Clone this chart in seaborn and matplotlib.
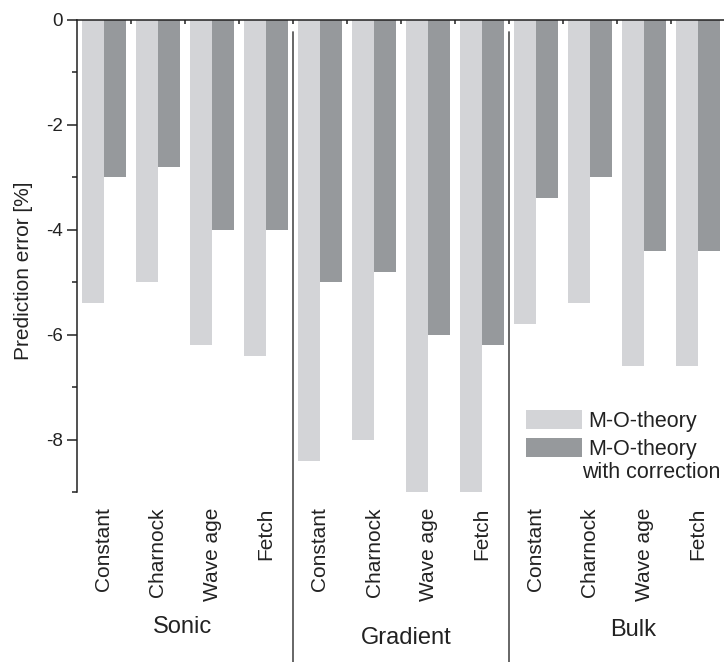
import matplotlib
matplotlib.use("Agg")
import matplotlib.pyplot as plt
import matplotlib.transforms as mtransforms
from matplotlib.patches import Patch
import numpy as np
import pandas as pd
import seaborn as sns

# Measurement setups and roughness parameterisations
groups = ["Sonic", "Gradient", "Bulk"]
methods = ["Constant", "Charnock", "Wave age", "Fetch"]

# Prediction errors [%] for each setup, methods in the order above
mo_theory = [-5.4, -5.0, -6.2, -6.4,
             -8.4, -8.0, -9.0, -9.0,
             -5.8, -5.4, -6.6, -6.6]
mo_corrected = [-3.0, -2.8, -4.0, -4.0,
                -5.0, -4.8, -6.0, -6.2,
                -3.4, -3.0, -4.4, -4.4]

series_names = ["M-O-theory", "M-O-theory with correction"]
colors = ["#d3d4d7", "#96999c"]

keys = [f"{g} {m}" for g in groups for m in methods]
df = pd.DataFrame({
    "key": keys * 2,
    "series": [series_names[0]] * len(keys) + [series_names[1]] * len(keys),
    "value": mo_theory + mo_corrected,
})

sns.set_theme(style="white")
plt.rcParams["font.family"] = ["Liberation Sans", "DejaVu Sans"]

W, H = 724, 662
fig = plt.figure(figsize=(W / 100, H / 100), dpi=100)
ax_left, ax_right, ax_top, ax_bottom = 77, 725, 19.5, 492
ax = fig.add_axes([ax_left / W, 1 - ax_bottom / H,
                   (ax_right - ax_left) / W, (ax_bottom - ax_top) / H])

sns.barplot(data=df, x="key", y="value", hue="series", order=keys,
            hue_order=series_names, palette=colors, saturation=1,
            width=0.815, gap=0, dodge=True, legend=False, ax=ax,
            linewidth=0, edgecolor="none")

ax.set_xlim(-0.5, len(keys) - 0.5)
ax.set_ylim(-9, 0)

# Axes frame: the zero line on top and the left axis only
for side in ["right", "bottom"]:
    ax.spines[side].set_visible(False)
for side in ["left", "top"]:
    ax.spines[side].set_visible(True)
    ax.spines[side].set_color("#222222")
    ax.spines[side].set_linewidth(1.1)

# y axis ticks
ax.set_yticks([0, -2, -4, -6, -8])
ax.set_yticks(np.arange(-1, -10, -2), minor=True)
ax.set_yticklabels(["0", "-2", "-4", "-6", "-8"])
ax.tick_params(axis="y", which="major", left=True, direction="out",
               length=7, width=1.1, color="#222222", labelsize=13.5,
               pad=3, labelcolor="#222222")
ax.tick_params(axis="y", which="minor", left=True, direction="out",
               length=3.5, width=1.1, color="#222222")

# x axis: ticks hang down from the zero line, labels sit below the plot
ax.set_xticks(range(len(keys)))
ax.set_xticks(np.arange(0.5, len(keys) - 0.5, 1.0), minor=True)
ax.set_xticklabels(methods * len(groups), rotation=90, fontsize=15,
                   color="#222222")
ax.tick_params(axis="x", which="major", top=True, bottom=False,
               labeltop=False, labelbottom=True, direction="in",
               length=6.5, width=1.1, color="#222222", pad=11)
ax.tick_params(axis="x", which="minor", top=True, bottom=False,
               direction="in", length=3, width=1.1, color="#222222")
ax.set_xlabel("")

ax.set_ylabel("Prediction error [%]", fontsize=15, color="#222222")
ax.yaxis.set_label_coords(-0.068, 0.468)

# Separators between the measurement setups
ax_h = ax_bottom - ax_top
for xs in [3.5, 7.5]:
    ax.axvline(xs, ymin=-(H - ax_bottom) / ax_h, ymax=1 - 12.5 / ax_h,
               color="#5a5a5a", lw=1.3, clip_on=False, zorder=5)

# Setup names under each block of bars
trans = mtransforms.blended_transform_factory(ax.transData, ax.transAxes)
group_pos = [(1.46, 627), (5.6, 638), (9.8, 630)]
for name, (gx, gy) in zip(groups, group_pos):
    ax.text(gx, (ax_bottom - gy) / ax_h, name, transform=trans,
            ha="center", va="center", fontsize=17, color="#222222")

# Legend
handles = [Patch(facecolor=c, edgecolor="none") for c in colors]
leg = ax.legend(handles, ["M-O-theory", "M-O-theory"],
                loc="upper left", bbox_to_anchor=(526 / W, 1 - 410 / H),
                bbox_transform=fig.transFigure, frameon=False,
                fontsize=15.5, handlelength=2.6, handleheight=0.97,
                handletextpad=0.28, labelspacing=0.3, borderpad=0,
                borderaxespad=0)
for t in leg.get_texts():
    t.set_color("#222222")
fig.text(582 / W, 1 - 472 / H, "with correction", ha="left", va="center",
         fontsize=15.5, color="#222222")

fig.savefig("out.png", dpi=100)
